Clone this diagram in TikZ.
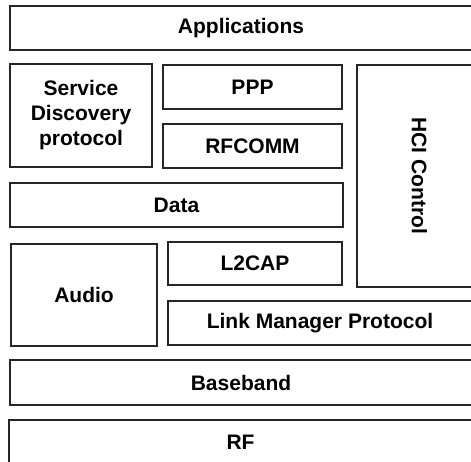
\documentclass[tikz,border=0pt]{standalone}
\usepackage{fontspec}
\setmainfont{Liberation Sans}

\begin{document}
\begin{tikzpicture}[x=1pt,y=-1pt,
  layer/.style={draw=black!85,line width=1.6pt,rectangle,inner sep=0pt,
                align=center,font=\fontsize{21}{25}\selectfont\bfseries}]
\useasboundingbox (0,0) rectangle (471,462);
\clip (0,0) rectangle (471,462);
\node[layer,minimum width=462,minimum height=44] (app)      at (241,28)    {Applications};
\node[layer,minimum width=142,minimum height=103](sdp)      at (81,115.5)  {Service\\Discovery\\protocol};
\node[layer,minimum width=179,minimum height=44] (ppp)      at (252.5,87)  {PPP};
\node[layer,minimum width=179,minimum height=44] (rfcomm)   at (252.5,146) {RFCOMM};
\node[layer,minimum width=333,minimum height=44] (data)     at (176.5,205) {Data};
\node[layer,rotate=-90,minimum width=222,minimum height=125] (hci) at (419.5,176) {HCI Control};
\node[layer,minimum width=146,minimum height=102](audio)    at (84,295)    {Audio};
\node[layer,minimum width=174,minimum height=43] (l2cap)    at (255,263.5) {L2CAP};
\node[layer,minimum width=304,minimum height=44] (lmp)      at (320,323)   {Link Manager Protocol};
\node[layer,minimum width=462,minimum height=45] (baseband) at (241,382.5) {Baseband};
\node[layer,minimum width=463,minimum height=44] (rf)       at (240.5,442) {RF};
\end{tikzpicture}
\end{document}
